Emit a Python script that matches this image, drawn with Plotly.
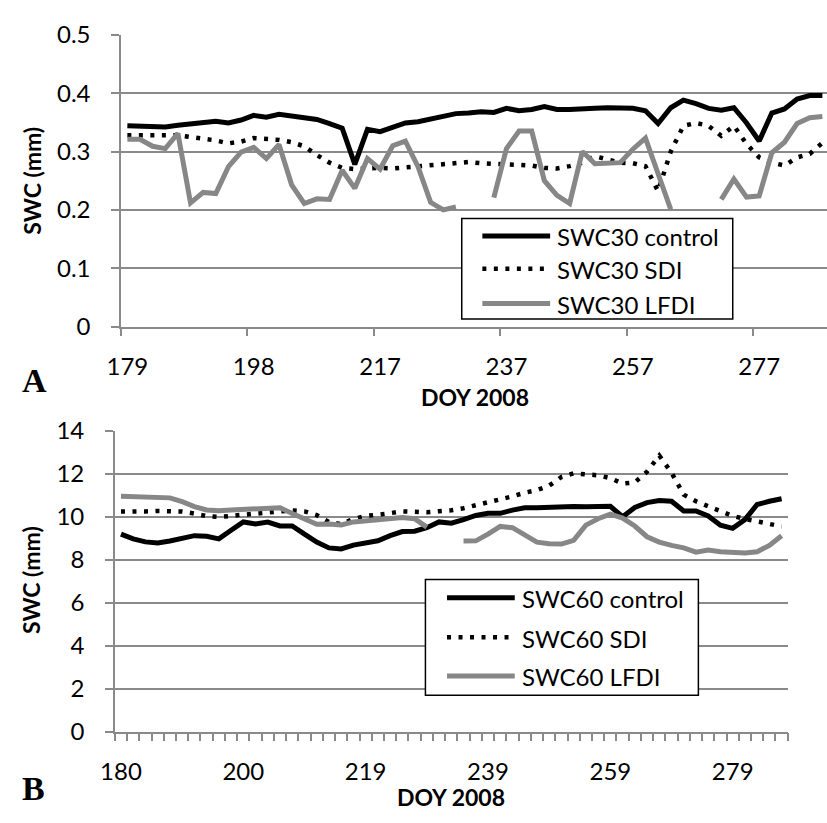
import plotly.graph_objects as go

# ---------------- data ----------------
top_tick_labels = ["179", "198", "217", "237", "257", "277"]
bot_tick_labels = ["180", "200", "219", "239", "259", "279"]

top_control = [0.344, 0.344, 0.344, 0.342, 0.345, 0.348, 0.350, 0.352, 0.349, 0.354,
               0.362, 0.359, 0.364, 0.361, 0.360, 0.355, 0.348, 0.340, 0.278, 0.338,
               0.334, 0.342, 0.349, 0.351, 0.355, 0.359, 0.365, 0.366, 0.368, 0.367,
               0.374, 0.370, 0.372, 0.377, 0.372, 0.372, 0.374, 0.374, 0.375, 0.375,
               0.374, 0.370, 0.348, 0.375, 0.388, 0.382, 0.374, 0.371, 0.375, 0.349,
               0.318, 0.366, 0.373, 0.390, 0.396, 0.396]
top_sdi = [0.328, 0.328, 0.328, 0.327, 0.328, 0.325, 0.322, 0.319, 0.314, 0.317,
           0.323, 0.321, 0.320, 0.316, 0.309, 0.294, 0.281, 0.272, 0.270, 0.271,
           0.272, 0.271, 0.273, 0.275, 0.277, 0.279, 0.281, 0.282, 0.280, 0.279,
           0.279, 0.278, 0.276, 0.272, 0.271, 0.275, 0.281, 0.292, 0.287, 0.281,
           0.280, 0.275, 0.232, 0.300, 0.344, 0.349, 0.344, 0.327, 0.344, 0.313,
           0.290, 0.281, 0.276, 0.290, 0.296, 0.315]
top_lfdi = [0.321, 0.321, 0.309, 0.305, 0.331, 0.212, 0.230, 0.228, 0.274, 0.299,
            0.307, 0.288, 0.312, 0.243, 0.211, 0.219, 0.218, 0.268, 0.237, 0.288,
            0.270, 0.310, 0.318, 0.274, 0.213, 0.200, 0.205, None, None, 0.221,
            0.305, 0.335, 0.335, 0.250, 0.225, 0.211, 0.300, 0.279, 0.280, 0.281,
            0.304, 0.323, 0.262, 0.201, None, None, None, 0.218, 0.253, 0.222,
            0.224, 0.298, 0.316, 0.348, 0.358, 0.360]

bot_control = [9.19, 8.97, 8.83, 8.78, 8.87, 9.02, 9.12, 9.09, 8.97, 9.37,
               9.76, 9.67, 9.75, 9.57, 9.57, 9.19, 8.82, 8.55, 8.50, 8.68,
               8.78, 8.88, 9.12, 9.31, 9.33, 9.49, 9.76, 9.70, 9.87, 10.06,
               10.16, 10.16, 10.31, 10.42, 10.42, 10.45, 10.49, 10.48, 10.47, 10.47,
               10.49, 10.00, 10.43, 10.66, 10.76, 10.72, 10.27, 10.27, 10.04, 9.61,
               9.46, 9.87, 10.57, 10.72, 10.84]
bot_sdi = [10.24, 10.22, 10.25, 10.27, 10.27, 10.24, 10.15, 10.03, 9.99, 10.04,
           10.10, 10.18, 10.23, 10.27, 10.30, 10.25, 10.08, 9.75, 9.66, 9.90,
           10.04, 10.09, 10.18, 10.25, 10.23, 10.21, 10.26, 10.30, 10.40, 10.53,
           10.68, 10.80, 10.95, 11.12, 11.24, 11.45, 11.85, 12.02, 12.00, 11.93,
           11.80, 11.55, 11.60, 12.10, 12.85, 12.05, 11.03, 10.72, 10.49, 10.27,
           10.04, 9.90, 9.78, 9.67, 9.55]
bot_lfdi = [10.96, 10.95, 10.92, 10.90, 10.88, 10.70, 10.47, 10.32, 10.28, 10.32,
            10.35, 10.40, 10.42, 10.42, 10.15, 9.88, 9.65, 9.66, 9.62, 9.76,
            9.82, 9.86, 9.94, 9.97, 9.91, 9.52, None, None, 8.87, 8.88,
            9.19, 9.55, 9.49, 9.15, 8.82, 8.74, 8.73, 8.90, 9.61, 9.91,
            10.12, 9.94, 9.57, 9.07, 8.82, 8.67, 8.55, 8.35, 8.45, 8.37,
            8.32, 8.31, 8.37, 8.67, 9.12]

top_names = ["SWC30 control", "SWC30 SDI", "SWC30 LFDI"]
bot_names = ["SWC60 control", "SWC60 SDI", "SWC60 LFDI"]

# ---------------- layout helpers ----------------
W, H = 827, 823
def fx(x): return x / W
def fy(y): return 1 - y / H

GRID = "#8a8a8a"
GRAY = "#878787"
FONT = "Lato"
DOT = "4px,7.5px"

styles = [dict(color="black", width=5),
          dict(color="black", width=4.5, dash=DOT),
          dict(color=GRAY, width=5)]

fig = go.Figure()
nt = len(top_control)
nb = len(bot_control)
xt = list(range(nt))
xb = list(range(nb))
for name, ys, st in zip(top_names, [top_control, top_sdi, top_lfdi], styles):
    fig.add_trace(go.Scatter(x=xt, y=ys, mode="lines", name=name, line=st,
                             connectgaps=False, showlegend=False,
                             xaxis="x", yaxis="y"))
for name, ys, st in zip(bot_names, [bot_control, bot_sdi, bot_lfdi], styles):
    fig.add_trace(go.Scatter(x=xb, y=ys, mode="lines", name=name, line=st,
                             connectgaps=False, showlegend=False,
                             xaxis="x2", yaxis="y2"))

tickfont = dict(family=FONT, size=24, color="black")

def xaxis_cfg(domain, rng, labels, every, minor_vals):
    return dict(domain=domain, range=rng, tickmode="array",
                tickvals=[i * every for i in range(len(labels))], ticktext=labels,
                ticks="", ticklabelstandoff=18, tickfont=tickfont,
                showgrid=False, zeroline=False, showline=True,
                linecolor=GRID, linewidth=1.5,
                minor=dict(tickmode="array", tickvals=minor_vals, ticks="outside",
                           ticklen=8, tickcolor=GRID, tickwidth=1.5, showgrid=False))

def yaxis_cfg(domain, rng, fmt_vals, fmt_text, anchor):
    return dict(domain=domain, range=rng, tickmode="array", tickvals=fmt_vals,
                ticktext=fmt_text, ticks="outside", ticklen=8, tickcolor=GRID,
                tickwidth=1.5, ticklabelstandoff=16, tickfont=tickfont,
                showgrid=True, gridcolor=GRID, gridwidth=1.5, zeroline=False,
                showline=True, linecolor=GRID, linewidth=1.5, anchor=anchor)

top_minor = [i - 0.5 for i in range(0, nt, 10)]
bot_minor = [i - 0.5 for i in range(0, nb + 1)]

top_yvals = [0, 0.1, 0.2, 0.3, 0.4, 0.5]
top_ytext = ["0", "0.1", "0.2", "0.3", "0.4", "0.5"]
bot_yvals = [0, 2, 4, 6, 8, 10, 12, 14]
bot_ytext = [str(v) for v in bot_yvals]

top_right = -0.5 + (W - 108) / 12.87

fig.update_layout(
    width=W, height=H, margin=dict(l=0, r=0, t=0, b=0),
    paper_bgcolor="white", plot_bgcolor="white", showlegend=False,
    xaxis=dict(**xaxis_cfg([fx(108), 1.0], [-0.5, top_right], top_tick_labels, 10, top_minor), anchor="y"),
    yaxis=yaxis_cfg([fy(322), fy(19.5)], [0, 0.5], top_yvals, top_ytext, "x"),
    xaxis2=dict(**xaxis_cfg([fx(101.7), fx(787)], [-0.5, nb - 0.5], bot_tick_labels, 10, bot_minor), anchor="y2"),
    yaxis2=yaxis_cfg([fy(741.7), fy(430)], [0, 14], bot_yvals, bot_ytext, "x2"),
)

shapes = []
annotations = []

def txt(x, y, s, size, bold=False, family=FONT, angle=0, xanchor="center", yanchor="middle"):
    annotations.append(dict(x=fx(x), y=fy(y), xref="paper", yref="paper", text=s,
                            showarrow=False, textangle=angle, xanchor=xanchor, yanchor=yanchor,
                            font=dict(family=family, size=size, color="black",
                                      weight="bold" if bold else "normal")))

# axis titles and panel letters
txt(17, 171, "SWC (mm)", 23, bold=True, angle=-90)
txt(469, 395, "DOY 2008", 23, bold=True)
txt(17, 585, "SWC (mm)", 23, bold=True, angle=-90)
txt(444, 810, "DOY 2008", 23, bold=True)
txt(20, 378, "A", 34, bold=True, family="Liberation Serif")
txt(19, 801, "B", 34, bold=True, family="Liberation Serif")

# legends (boxes + sample lines + labels)
def legend(box, rows, line_x, text_x, names):
    x0, y0, x1, y1 = box
    shapes.append(dict(type="rect", xref="paper", yref="paper",
                       x0=fx(x0), x1=fx(x1), y0=fy(y1), y1=fy(y0),
                       line=dict(color="black", width=1.5), fillcolor="white"))
    for ry, nm, st in zip(rows, names, styles):
        ln = dict(color=st["color"], width=st["width"])
        if "dash" in st:
            ln["dash"] = st["dash"]
        shapes.append(dict(type="line", xref="paper", yref="paper",
                           x0=fx(line_x[0]), x1=fx(line_x[1]), y0=fy(ry), y1=fy(ry), line=ln))
        txt(text_x, ry + 1, nm, 24, xanchor="left")

legend((455, 210, 731, 314), [228, 262, 298], (476, 545), 550, top_names)
legend((418, 584, 696, 704), [603, 644, 684], (440, 509), 514, bot_names)

fig.update_layout(shapes=shapes, annotations=annotations)
fig.write_html("out.html")
